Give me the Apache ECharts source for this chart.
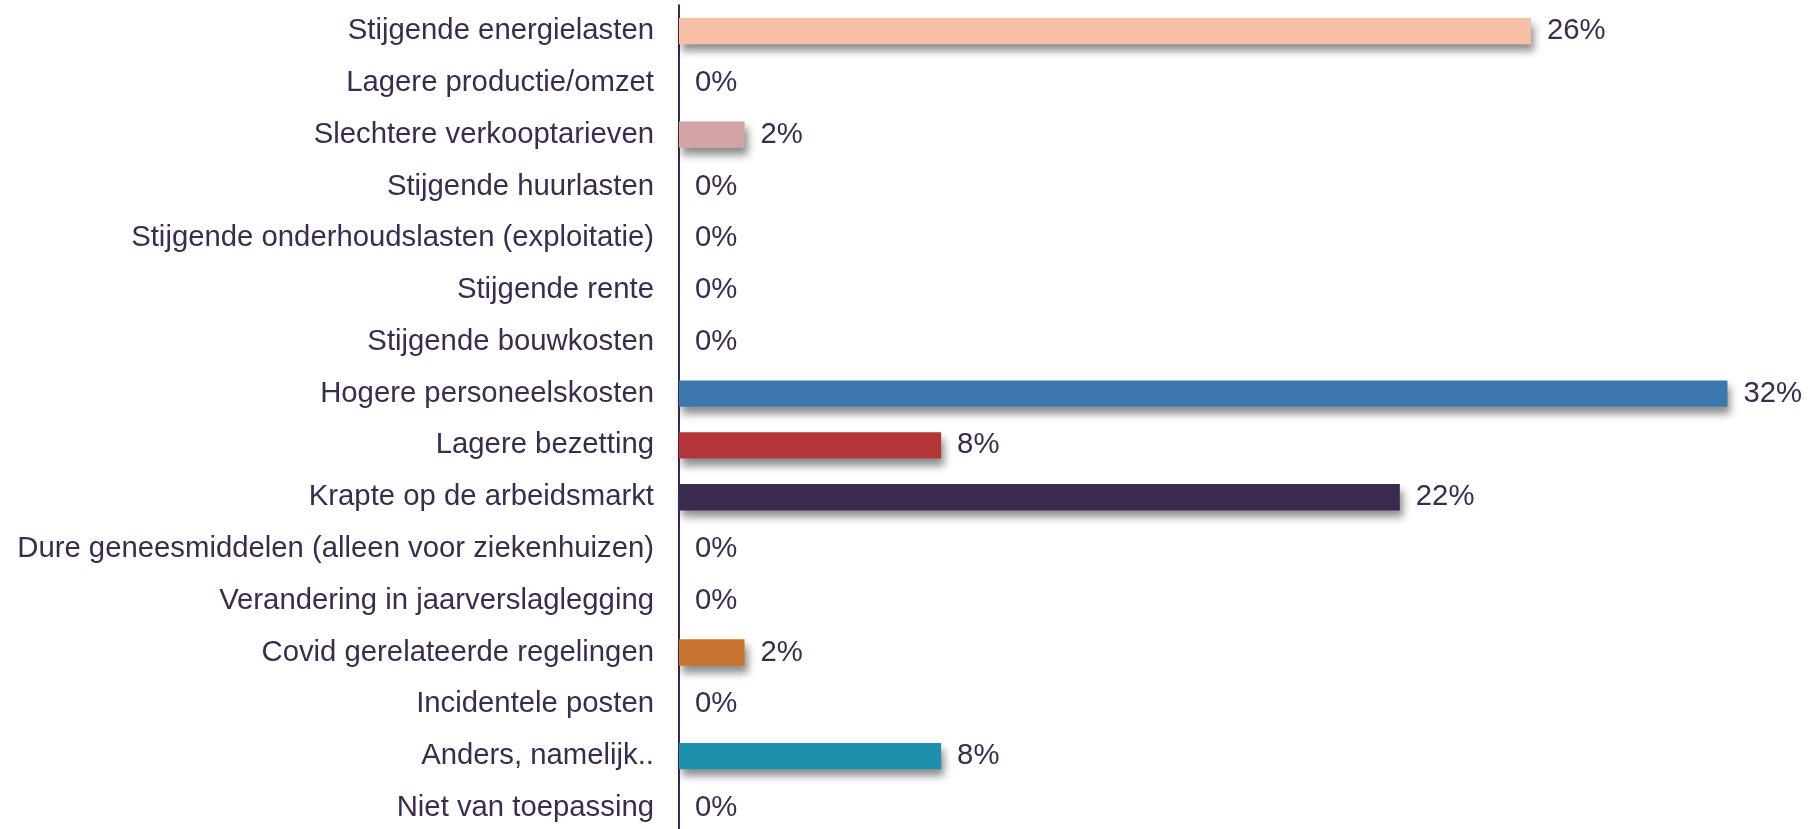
<!DOCTYPE html>
<html>
<head>
<meta charset="utf-8">
<script src="https://cdn.jsdelivr.net/npm/echarts@6/dist/echarts.min.js"></script>
<style>
  html, body { margin: 0; padding: 0; background: #ffffff; overflow: hidden; }
  #chart { width: 1817px; height: 829px; }
</style>
</head>
<body>
<div id="chart"></div>
<script>
// Oorzaken van verslechtering (aandeel respondenten, %)
const categories = [
  'Stijgende energielasten',
  'Lagere productie/omzet',
  'Slechtere verkooptarieven',
  'Stijgende huurlasten',
  'Stijgende onderhoudslasten (exploitatie)',
  'Stijgende rente',
  'Stijgende bouwkosten',
  'Hogere personeelskosten',
  'Lagere bezetting',
  'Krapte op de arbeidsmarkt',
  'Dure geneesmiddelen (alleen voor ziekenhuizen)',
  'Verandering in jaarverslaglegging',
  'Covid gerelateerde regelingen',
  'Incidentele posten',
  'Anders, namelijk..',
  'Niet van toepassing'
];
const values = [26, 0, 2, 0, 0, 0, 0, 32, 8, 22, 0, 0, 2, 0, 8, 0];

// Bar colour per category
const barColors = [
  '#F6BFA6', '#F6BFA6', '#D3A4A4', '#D3A4A4', '#D3A4A4', '#D3A4A4', '#D3A4A4',
  '#3C77AE', '#B23638', '#3A2A4D', '#3A2A4D', '#3A2A4D', '#C8732F', '#C8732F',
  '#1F8FAE', '#1F8FAE'
];

const textColor = '#3B2C4E';
const fontFamily = '"Liberation Sans", Arial, sans-serif';

const chart = echarts.init(document.getElementById('chart'), null, { renderer: 'canvas' });

chart.setOption({
  animation: false,
  backgroundColor: '#ffffff',
  grid: {
    left: 679, top: 5.2, width: 1114, height: 828.6,
    containLabel: false,
    outerBoundsMode: 'none'
  },
  xAxis: {
    type: 'value',
    min: 0,
    max: 34,
    show: false
  },
  yAxis: {
    type: 'category',
    data: categories,
    inverse: true,
    axisLine: { show: true, lineStyle: { color: textColor, width: 2 } },
    axisTick: { show: false },
    splitLine: { show: false },
    axisLabel: {
      color: textColor,
      fontSize: 29.3,
      fontFamily: fontFamily,
      margin: 25,
      padding: [13, 0, 0, 0]
    }
  },
  series: [{
    type: 'bar',
    data: values.map((v, i) => ({ value: v, itemStyle: { color: barColors[i] } })),
    barWidth: '51%',
    itemStyle: {
      shadowColor: 'rgba(0, 0, 0, 0.45)',
      shadowBlur: 8,
      shadowOffsetX: 3,
      shadowOffsetY: 7
    },
    label: {
      show: true,
      position: 'right',
      distance: 16,
      formatter: '{c}%',
      color: textColor,
      fontSize: 29.3,
      fontFamily: fontFamily,
      padding: [13, 0, 0, 0]
    }
  }]
});
</script>
</body>
</html>
